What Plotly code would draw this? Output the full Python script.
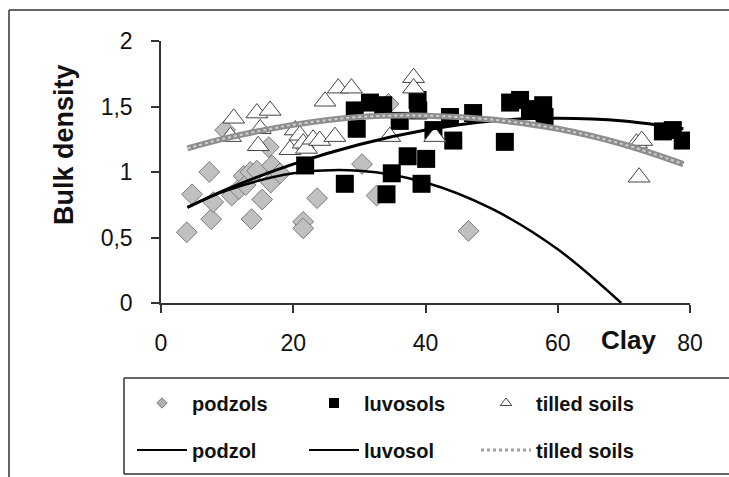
import plotly.graph_objects as go

# ---------------- data ----------------
podzol_x = [3.9, 4.7, 7.3, 7.6, 7.9, 9.7, 10.7, 11.8, 12.5, 12.8, 13.5, 13.7, 14.5, 15.3,
            16.3, 16.6, 16.8, 18.0, 21.5, 21.5, 23.6, 30.4, 32.6, 34.4, 46.5]
podzol_y = [0.54, 0.83, 1.00, 0.64, 0.77, 1.32, 0.82, 0.87, 0.97, 0.90, 1.00, 0.64, 1.01, 0.79,
            1.19, 0.92, 1.05, 0.99, 0.62, 0.57, 0.80, 1.06, 0.82, 1.52, 0.55]

luvosol_x = [21.8, 27.8, 29.3, 29.6, 31.6, 33.6, 34.1, 34.9, 36.1, 37.3, 38.8, 38.9, 39.4,
             40.1, 41.2, 43.7, 44.2, 47.2, 52.0, 52.8, 54.3, 55.8, 57.8, 58.0, 75.9, 77.4, 78.9]
luvosol_y = [1.05, 0.91, 1.47, 1.33, 1.53, 1.51, 0.83, 0.99, 1.39, 1.12, 1.55, 1.47, 0.91,
             1.10, 1.32, 1.42, 1.24, 1.45, 1.23, 1.53, 1.55, 1.48, 1.51, 1.42, 1.31, 1.32, 1.24]

tilled_x = [10.5, 11.0, 14.5, 15.0, 14.7, 16.5, 19.5, 20.3, 21.0, 21.5, 22.0, 23.0, 24.0,
            24.8, 26.3, 26.8, 28.8, 34.6, 38.2, 38.2, 41.4, 71.9, 72.7, 72.3]
tilled_y = [1.27, 1.41, 1.45, 1.33, 1.20, 1.47, 1.17, 1.32, 1.28, 1.22, 1.18, 1.25, 1.24,
            1.54, 1.27, 1.64, 1.64, 1.27, 1.72, 1.64, 1.27, 1.22, 1.24, 0.96]

# trend lines (at a few abscissae)
podzol_fit_x = [4, 10, 20, 30, 40, 50, 60, 69.6]
podzol_fit_y = [0.73, 0.86, 0.99, 1.01, 0.92, 0.72, 0.41, 0.0]
luvosol_fit_x = [4, 10, 20, 30, 40, 50, 60, 70, 79]
luvosol_fit_y = [0.73, 0.87, 1.06, 1.21, 1.32, 1.39, 1.41, 1.39, 1.33]
tilled_fit_x = [4, 10, 20, 30, 40, 50, 60, 70, 79]
tilled_fit_y = [1.18, 1.26, 1.36, 1.42, 1.43, 1.40, 1.33, 1.21, 1.06]

x_ticks = [0, 20, 40, 60, 80]
x_ticklabels = ["0", "20", "40", "60", "80"]
y_ticks = [0, 0.5, 1, 1.5, 2]
y_ticklabels = ["0", "0,5", "1", "1,5", "2"]

marker_names = ["podzols", "luvosols", "tilled soils"]
line_names = ["podzol", "luvosol", "tilled soils"]
x_title = "Clay"
y_title = "Bulk density"

# ---------------- layout geometry ----------------
W, H = 729, 477
L, R, T, B = 161, 39, 41, 174
PW, PH = W - L - R, H - T - B

def px(xp):
    return (xp - L) / PW

def py(yp):
    return (H - B - yp) / PH

FONT = "Liberation Sans, Arial, sans-serif"
GRAY_LINE = "#8e8e8e"

fig = go.Figure()

# scatter series (legend handled by proxies below)
fig.add_trace(go.Scatter(x=podzol_x, y=podzol_y, mode="markers", showlegend=False,
                         marker=dict(symbol="diamond", size=16, color="#c0c0c0",
                                     line=dict(color="#7a7a7a", width=1))))
fig.add_trace(go.Scatter(x=luvosol_x, y=luvosol_y, mode="markers", showlegend=False,
                         marker=dict(symbol="square", size=18, color="#000000",
                                     line=dict(color="#000000", width=0))))
fig.add_trace(go.Scatter(x=tilled_x, y=tilled_y, mode="markers", showlegend=False,
                         marker=dict(symbol="triangle-up", size=19, color="#ffffff",
                                     line=dict(color="#444444", width=1))))

# trend lines
fig.add_trace(go.Scatter(x=podzol_fit_x, y=podzol_fit_y, mode="lines", showlegend=False,
                         line=dict(color="#000000", width=2.5, shape="spline")))
fig.add_trace(go.Scatter(x=luvosol_fit_x, y=luvosol_fit_y, mode="lines", showlegend=False,
                         line=dict(color="#000000", width=3, shape="spline")))
fig.add_trace(go.Scatter(x=tilled_fit_x, y=tilled_fit_y, mode="lines", showlegend=False,
                         line=dict(color=GRAY_LINE, width=6, shape="spline")))
fig.add_trace(go.Scatter(x=tilled_fit_x, y=tilled_fit_y, mode="lines", showlegend=False,
                         line=dict(color="#d0d0d0", width=2, shape="spline", dash="dot")))

# legend proxies, row 1 (markers)
fig.add_trace(go.Scatter(x=[None], y=[None], mode="markers", name=marker_names[0], legend="legend",
                         marker=dict(symbol="diamond", size=8, color="#b0b0b0",
                                     line=dict(color="#7a7a7a", width=1))))
fig.add_trace(go.Scatter(x=[None], y=[None], mode="markers", name=marker_names[1], legend="legend",
                         marker=dict(symbol="square", size=10, color="#000000")))
fig.add_trace(go.Scatter(x=[None], y=[None], mode="markers", name=marker_names[2], legend="legend",
                         marker=dict(symbol="triangle-up", size=10, color="#ffffff",
                                     line=dict(color="#444444", width=1))))
# legend proxies, row 2 (lines)
fig.add_trace(go.Scatter(x=[None], y=[None], mode="lines", name=line_names[0], legend="legend2",
                         line=dict(color="#000000", width=2)))
fig.add_trace(go.Scatter(x=[None], y=[None], mode="lines", name=line_names[1], legend="legend2",
                         line=dict(color="#000000", width=2)))
fig.add_trace(go.Scatter(x=[None], y=[None], mode="lines", name=line_names[2], legend="legend2",
                         line=dict(color="#a0a0a0", width=3, dash="dot")))

legend_common = dict(orientation="h", xanchor="left", yanchor="middle",
                     bgcolor="rgba(0,0,0,0)", borderwidth=0,
                     font=dict(family=FONT, size=20, color="#111111", weight="bold"),
                     entrywidth=107, entrywidthmode="pixels", itemwidth=50,
                     traceorder="normal")

fig.update_layout(
    width=W, height=H,
    margin=dict(l=L, r=R, t=T, b=B, pad=0, autoexpand=False),
    paper_bgcolor="#ffffff", plot_bgcolor="#ffffff",
    font=dict(family=FONT, color="#111111"),
    legend=dict(x=px(132), y=py(403), **legend_common),
    legend2=dict(x=px(132), y=py(450), **legend_common),
    xaxis=dict(range=[0, 80], tickvals=x_ticks, ticktext=x_ticklabels,
               showgrid=False, zeroline=False, showline=True, linecolor="#333333", linewidth=1.5,
               ticks="outside", ticklen=8, tickwidth=1.5, tickcolor="#333333",
               tickfont=dict(family=FONT, size=23, color="#111111"),
               ticklabelstandoff=11),
    yaxis=dict(range=[0, 2], tickvals=y_ticks, ticktext=y_ticklabels,
               showgrid=False, zeroline=False, showline=True, linecolor="#333333", linewidth=1.5,
               ticks="outside", ticklen=8, tickwidth=1.5, tickcolor="#333333",
               tickfont=dict(family=FONT, size=23, color="#111111"),
               ticklabelstandoff=14),
    showlegend=True,
)

# axis titles
fig.add_annotation(x=px(628), y=py(340), xref="paper", yref="paper", text=x_title,
                   showarrow=False, xanchor="center", yanchor="middle",
                   font=dict(family=FONT, size=26, color="#111111", weight="bold"))
fig.add_annotation(x=px(64), y=py(145), xref="paper", yref="paper", text=y_title,
                   textangle=-90, showarrow=False, xanchor="center", yanchor="middle",
                   font=dict(family=FONT, size=27, color="#111111", weight="bold"))

# outer chart frame (top and left sides visible) and legend box (right side off-window)
frame = dict(color="#333333", width=1.5)
fig.add_shape(type="line", xref="paper", yref="paper", x0=px(9), x1=px(900), y0=py(10), y1=py(10), line=frame)
fig.add_shape(type="line", xref="paper", yref="paper", x0=px(9), x1=px(9), y0=py(10), y1=py(600), line=frame)
fig.add_shape(type="line", xref="paper", yref="paper", x0=px(124), x1=px(900), y0=py(378), y1=py(378), line=frame)
fig.add_shape(type="line", xref="paper", yref="paper", x0=px(124), x1=px(900), y0=py(474), y1=py(474), line=frame)
fig.add_shape(type="line", xref="paper", yref="paper", x0=px(124), x1=px(124), y0=py(378), y1=py(474), line=frame)

fig.write_html("out.html")
